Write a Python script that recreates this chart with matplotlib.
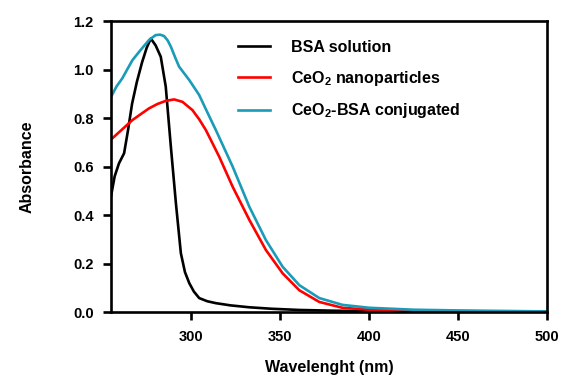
import matplotlib
matplotlib.use('Agg')
import matplotlib.pyplot as plt

plt.rcParams['font.family'] = ['Liberation Sans', 'DejaVu Sans']
plt.rcParams['font.weight'] = 'bold'
plt.rcParams['mathtext.fontset'] = 'custom'
plt.rcParams['mathtext.rm'] = 'Liberation Sans:bold'
plt.rcParams['mathtext.bf'] = 'Liberation Sans:bold'
plt.rcParams['mathtext.default'] = 'rm'

# BSA solution
bsa_x = [255, 257, 259.4, 262.3, 264.5, 266.8, 269.5, 272.4, 275, 277.3, 280, 282.9,
         285.7, 288.6, 291.4, 294.2, 296.5, 298.9, 301.5, 304.5, 309, 313.9, 322,
         332.7, 345, 360.8, 380, 400, 450, 500]
bsa_y = [0.48, 0.56, 0.613, 0.655, 0.75, 0.86, 0.95, 1.03, 1.09, 1.128, 1.10, 1.053,
         0.93, 0.68, 0.45, 0.243, 0.165, 0.12, 0.085, 0.058, 0.045, 0.037, 0.028,
         0.02, 0.014, 0.009, 0.006, 0.004, 0.002, 0.001]

# CeO2 nanoparticles
ceo2_x = [255, 261, 267, 272, 276.3, 281, 285.7, 290.4, 295.1, 300.7, 304.5, 308.3,
          315.8, 323.3, 332.7, 342, 351.4, 360.8, 372, 385, 400, 425, 450, 500]
ceo2_y = [0.712, 0.752, 0.792, 0.818, 0.84, 0.858, 0.871, 0.877, 0.867, 0.833, 0.795,
          0.75, 0.64, 0.517, 0.38, 0.256, 0.16, 0.09, 0.042, 0.018, 0.01, 0.006,
          0.004, 0.002]

# CeO2-BSA conjugated
conj_x = [255, 258, 261.3, 264, 267, 271.5, 276.3, 280, 282.5, 284.8, 286.8, 288.6,
          291, 293.2, 296, 298.9, 304.5, 309, 313.9, 323.3, 332.7, 342, 351.4, 360.8,
          372, 385, 400, 425, 450, 500]
conj_y = [0.888, 0.93, 0.964, 1.0, 1.039, 1.08, 1.122, 1.142, 1.144, 1.138, 1.12,
          1.094, 1.05, 1.012, 0.985, 0.957, 0.895, 0.825, 0.75, 0.6, 0.434, 0.297,
          0.187, 0.111, 0.058, 0.03, 0.018, 0.01, 0.007, 0.003]

fig = plt.figure(figsize=(5.64, 3.83), dpi=100)
ax = fig.add_axes([0.197, 0.185, 0.773, 0.760])

ax.plot(bsa_x, bsa_y, color='black', lw=1.9, label='BSA solution')
ax.plot(ceo2_x, ceo2_y, color='#ff0000', lw=1.9, label='CeO$_2$ nanoparticles')
ax.plot(conj_x, conj_y, color='#1a9bb8', lw=1.9, label='CeO$_2$-BSA conjugated')

ax.set_xlim(255, 500)
ax.set_ylim(0, 1.2)
ax.set_xticks([300, 350, 400, 450, 500])
ax.set_yticks([0.0, 0.2, 0.4, 0.6, 0.8, 1.0, 1.2])
ax.set_yticklabels(['0.0', '0.2', '0.4', '0.6', '0.8', '1.0', '1.2'])

for s in ax.spines.values():
    s.set_linewidth(1.9)
ax.tick_params(direction='out', length=5.5, width=1.9, labelsize=10.5, pad=7)
for lab in ax.get_xticklabels() + ax.get_yticklabels():
    lab.set_fontweight('bold')

ax.set_xlabel('Wavelenght (nm)', fontsize=11.5, fontweight='bold', labelpad=12)
ax.set_ylabel('Absorbance', fontsize=11.5, fontweight='bold', labelpad=28)

leg = ax.legend(loc='upper left', bbox_to_anchor=(0.291, 0.935), frameon=False,
                fontsize=11.5, handlelength=2.0, handletextpad=1.3,
                labelspacing=0.85, borderpad=0, borderaxespad=0)
for t in leg.get_texts():
    t.set_fontweight('bold')

fig.savefig('out.png', dpi=100)
